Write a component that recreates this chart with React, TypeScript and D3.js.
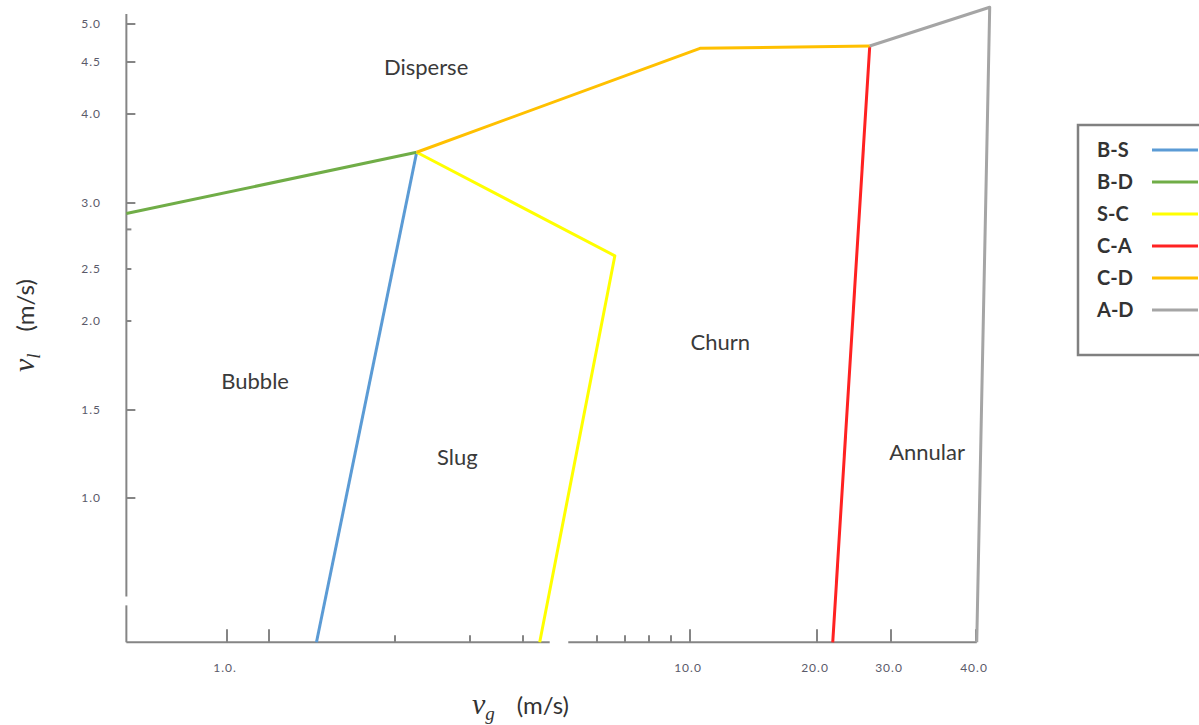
import React from 'react';
import * as d3 from 'd3';

// axis ticks (vg in m/s, vl in m/s)
const xTickValues = [1, 2, 3, 4, 5, 6, 7, 8, 9, 10, 20, 30, 40];
const xTickLabels = ['1.0.', '', '', '', '', '', '', '', '', '10.0', '20.0', '30.0', '40.0'];
const xLongTicks = [1, 2, 10, 20, 30, 40];
const yTickValues = [1.0, 1.5, 2.0, 2.5, 3.0, 4.0, 4.5, 5.0];
const yTickLabels = ['1.0', '1.5', '2.0', '2.5', '3.0', '4.0', '4.5', '5.0'];
const yShortTicks = [2.0, 2.5];
const yMinorTicks = [2.8];

// axis extents and breaks
const vgMin = 0.19;
const vgMax = 40.1;
const vlMin = 0.18;
const vlMax = 5.13;
const vgBreak = [5.34, 5.59];
const vlBreak = [0.44, 0.39];

// regime boundaries, [vg, vl]
const bubbleSlug = [[3.26, 3.57], [2.33, 0.18]];
const bubbleDisperse = [[0.19, 2.92], [3.26, 3.57]];
const slugChurn = [[3.26, 3.57], [6.62, 2.6], [5.21, 0.18]];
const churnAnnular = [[26.7, 4.71], [21.8, 0.18]];
const churnDisperse = [[3.26, 3.57], [10.56, 4.68], [26.7, 4.71]];
const annularDisperse = [[26.7, 4.71], [41.9, 5.22], [40.1, 0.18]];

const seriesNames = ['B-S', 'B-D', 'S-C', 'C-A', 'C-D', 'A-D'];
const seriesData = [bubbleSlug, bubbleDisperse, slugChurn, churnAnnular, churnDisperse, annularDisperse];
const seriesColors = ['#5B9BD5', '#70AD47', '#FFFF00', '#FF2222', '#FFC000', '#A5A5A5'];

// regime names, [vg, vl]
const regimeNames = ['Disperse', 'Bubble', 'Slug', 'Churn', 'Annular'];
const regimePos = [[3.38, 4.45], [1.59, 1.66], [3.81, 1.23], [11.8, 1.88], [33.9, 1.26]];

// hand-placed tick positions of the original picture
const xTickPx = [227, 269, 395, 470, 523, 597, 625, 649, 671, 690, 817, 891, 976];
const yTickPx = [498, 410, 321, 269, 203, 114, 62, 24];

const axisColor = '#858585';
const labelFont = 'Lato, "Open Sans", sans-serif';

const App = () => {
  const x = d3.scaleLog().domain(xTickValues).range(xTickPx);
  const y = d3.scaleLinear().domain(yTickValues).range(yTickPx);

  const line = d3.line<number[]>()
    .x(d => x(d[0]))
    .y(d => y(d[1]));

  const x0 = x(vgMin);
  const y0 = y(vlMin);

  return (
    <svg width={1199} height={725} style={{ position: 'absolute', left: 0, top: 0, background: '#fff' }}>
      {/* axes */}
      <g stroke={axisColor} strokeWidth={2} fill="none">
        <line x1={x0} x2={x(vgBreak[0])} y1={y0} y2={y0} />
        <line x1={x(vgBreak[1])} x2={x(vgMax)} y1={y0} y2={y0} />
        <line x1={x0} x2={x0} y1={y(vlMax)} y2={y(vlBreak[0])} />
        <line x1={x0} x2={x0} y1={y(vlBreak[1])} y2={y0} />
        {xTickValues.map(v => (
          <line key={v} x1={x(v)} x2={x(v)} y1={y0} y2={y0 - (xLongTicks.includes(v) ? 13 : 7)} />
        ))}
        {yTickValues.map(v => (
          <line key={v} x1={x0} x2={x0 + (yShortTicks.includes(v) ? 5 : 9)} y1={y(v)} y2={y(v)} />
        ))}
        {yMinorTicks.map(v => (
          <line key={v} x1={x0} x2={x0 + 5} y1={y(v)} y2={y(v)} />
        ))}
      </g>

      <g fontFamily={labelFont} fontSize={12} fill="#5a5a6a" letterSpacing={1}>
        {xTickValues.map((v, i) => xTickLabels[i] ? (
          <text key={v} x={x(v) - 2} y={672} textAnchor="middle">{xTickLabels[i]}</text>
        ) : null)}
        {yTickValues.map((v, i) => (
          <text key={v} x={101} y={y(v)} dy="0.35em" textAnchor="end">{yTickLabels[i]}</text>
        ))}
      </g>

      {/* boundaries */}
      {seriesData.map((d, i) => (
        <path key={seriesNames[i]} d={line(d) || ''} fill="none" stroke={seriesColors[i]}
          strokeWidth={3} strokeLinejoin="round" />
      ))}

      {/* regime names */}
      <g fontFamily={labelFont} fontSize={22} fill="#3a3a3a">
        {regimeNames.map((n, i) => (
          <text key={n} x={x(regimePos[i][0])} y={y(regimePos[i][1])} dy="0.35em" textAnchor="middle">{n}</text>
        ))}
      </g>

      {/* axis titles */}
      <text x={472} y={714} fill="#333">
        <tspan fontFamily='"Liberation Serif", serif' fontStyle="italic" fontSize={30}>v</tspan>
        <tspan fontFamily='"Liberation Serif", serif' fontStyle="italic" fontSize={19} dy={6}>g</tspan>
        <tspan fontFamily={labelFont} fontSize={24} dy={-6} dx={22}>(m/s)</tspan>
      </text>
      <text transform="translate(34,372) rotate(-90)" fill="#333">
        <tspan fontFamily='"Liberation Serif", serif' fontStyle="italic" fontSize={30}>v</tspan>
        <tspan fontFamily='"Liberation Serif", serif' fontStyle="italic" fontSize={19} dy={6}>l</tspan>
        <tspan fontFamily={labelFont} fontSize={24} dy={-6} dx={22}>(m/s)</tspan>
      </text>

      {/* legend */}
      <rect x={1078} y={125} width={140} height={230} fill="#fff" stroke="#808080" strokeWidth={2.5} />
      <g fontFamily={labelFont} fontSize={20} fontWeight={700} fill="#333">
        {seriesNames.map((n, i) => (
          <g key={n} transform={`translate(0,${150 + i * 32})`}>
            <text x={1097} y={0} dy="0.35em">{n}</text>
            <line x1={1152} x2={1198} y1={0} y2={0} stroke={seriesColors[i]} strokeWidth={3} />
          </g>
        ))}
      </g>
    </svg>
  );
};

export default App;
